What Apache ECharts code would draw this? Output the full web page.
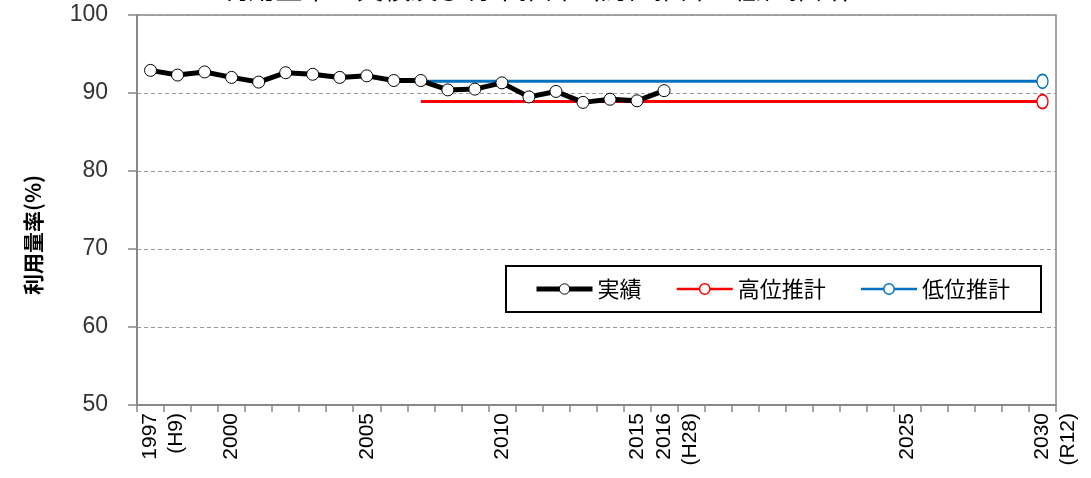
<!DOCTYPE html>
<html>
<head>
<meta charset="utf-8">
<script src="https://cdn.jsdelivr.net/npm/echarts@6/dist/echarts.min.js"></script>
<style>
html,body{margin:0;padding:0;background:#fff;}
#chart{width:1091px;height:478px;}
</style>
</head>
<body>
<div id="chart"></div>
<script>
const years = ['1997','1998','1999','2000','2001','2002','2003','2004','2005','2006','2007','2008','2009','2010','2011','2012','2013','2014','2015','2016','2017','2018','2019','2020','2021','2022','2023','2024','2025','2026','2027','2028','2029','2030'];
const tickLabels = [' \n1997\n(H9)','','','2000','','','','','2005','','','','','2010','','','','','2015',' \n2016\n(H28)','','','','','','','','','2025','','','','',' \n2030\n(R12)'];
const actualYears = ['1997','1998','1999','2000','2001','2002','2003','2004','2005','2006','2007','2008','2009','2010','2011','2012','2013','2014','2015','2016'];
const actualValues = [92.9, 92.3, 92.7, 92.0, 91.4, 92.6, 92.4, 92.0, 92.2, 91.6, 91.6, 90.4, 90.5, 91.3, 89.5, 90.2, 88.8, 89.2, 89.0, 90.3];
const highYears = ['2007','2030'];
const highValues = [88.9, 88.9];
const lowYears = ['2007','2030'];
const lowValues = [91.5, 91.5];
const yTicks = [50, 60, 70, 80, 90, 100];
const names = ['実績','高位推計','低位推計'];
const titleText = '利用量率の実績及び将来推計（高位推計・低位推計）';

function buildSeriesData(ys, vals, hideFirstSymbol) {
  return years.map(function (y) {
    const i = ys.indexOf(y);
    if (i < 0) return null;
    if (hideFirstSymbol && i === 0) return { value: vals[i], symbol: 'none' };
    return vals[i];
  });
}

const chart = echarts.init(document.getElementById('chart'));
const option = {
  animation: false,
  backgroundColor: '#ffffff',
  title: {
    text: titleText,
    left: 'center',
    top: -30,
    textStyle: { fontFamily: 'Noto Sans CJK JP', fontSize: 27, fontWeight: 'normal', color: '#000' }
  },
  grid: {
    left: 137, right: 35, top: 15, bottom: 73,
    show: true, borderColor: '#888888', borderWidth: 1.5, backgroundColor: 'transparent'
  },
  legend: {
    data: [
      { name: names[0], lineStyle: { width: 5, color: '#000' }, itemStyle: { color: '#fff', borderColor: '#000', borderWidth: 1 } },
      { name: names[1], lineStyle: { width: 2.5, color: '#FF0000' }, itemStyle: { color: '#fff', borderColor: '#FF0000', borderWidth: 1.5 } },
      { name: names[2], lineStyle: { width: 2.5, color: '#0070C0' }, itemStyle: { color: '#fff', borderColor: '#0070C0', borderWidth: 1.5 } }
    ],
    left: 506, top: 266,
    padding: [12, 31, 12, 28],
    backgroundColor: '#fff',
    borderColor: '#000', borderWidth: 2, borderRadius: 0,
    itemWidth: 56, itemHeight: 13, itemGap: 34,
    textStyle: { fontFamily: 'Noto Sans CJK JP', fontSize: 22, color: '#000' }
  },
  xAxis: {
    type: 'category',
    data: years,
    boundaryGap: true,
    axisLine: { lineStyle: { color: '#888888', width: 2 } },
    axisTick: { show: true, interval: 0, length: 7, lineStyle: { color: '#888888', width: 1.5 } },
    axisLabel: {
      interval: 0,
      rotate: 90,
      margin: 8,
      fontFamily: 'Liberation Sans',
      fontSize: 21,
      lineHeight: 26,
      color: '#000',
      formatter: function (v, idx) { return tickLabels[idx]; }
    },
    splitLine: { show: false }
  },
  yAxis: {
    type: 'value',
    min: yTicks[0], max: yTicks[yTicks.length - 1], interval: 10,
    name: '利用量率(%)',
    nameLocation: 'middle',
    nameGap: 93,
    nameRotate: 90,
    nameTextStyle: { fontFamily: 'Noto Sans CJK JP', fontSize: 21, fontWeight: 'bold', color: '#000', padding: [0, 50, 0, 0] },
    axisLine: { show: true, lineStyle: { color: '#888888', width: 2 } },
    axisTick: { show: true, length: 9, lineStyle: { color: '#888888', width: 1.5 } },
    axisLabel: { margin: 29, fontFamily: 'Liberation Sans', fontSize: 23, color: '#333' },
    splitLine: { show: true, lineStyle: { color: '#999', type: [4, 3], width: 1 } }
  },
  series: [
    {
      name: names[1], type: 'line',
      data: buildSeriesData(highYears, highValues, true),
      connectNulls: true,
      symbol: 'circle', symbolSize: [11, 14],
      itemStyle: { color: '#fff', borderColor: '#FF0000', borderWidth: 1.5 },
      lineStyle: { color: '#FF0000', width: 3 },
      z: 2
    },
    {
      name: names[2], type: 'line',
      data: buildSeriesData(lowYears, lowValues, true),
      connectNulls: true,
      symbol: 'circle', symbolSize: [11, 14],
      itemStyle: { color: '#fff', borderColor: '#0070C0', borderWidth: 1.5 },
      lineStyle: { color: '#0070C0', width: 3 },
      z: 3
    },
    {
      name: names[0], type: 'line',
      data: buildSeriesData(actualYears, actualValues, false),
      symbol: 'circle', symbolSize: 12,
      itemStyle: { color: '#fff', borderColor: '#000', borderWidth: 1 },
      lineStyle: { color: '#000', width: 5 },
      z: 4
    }
  ]
};
chart.setOption(option);
</script>
</body>
</html>
